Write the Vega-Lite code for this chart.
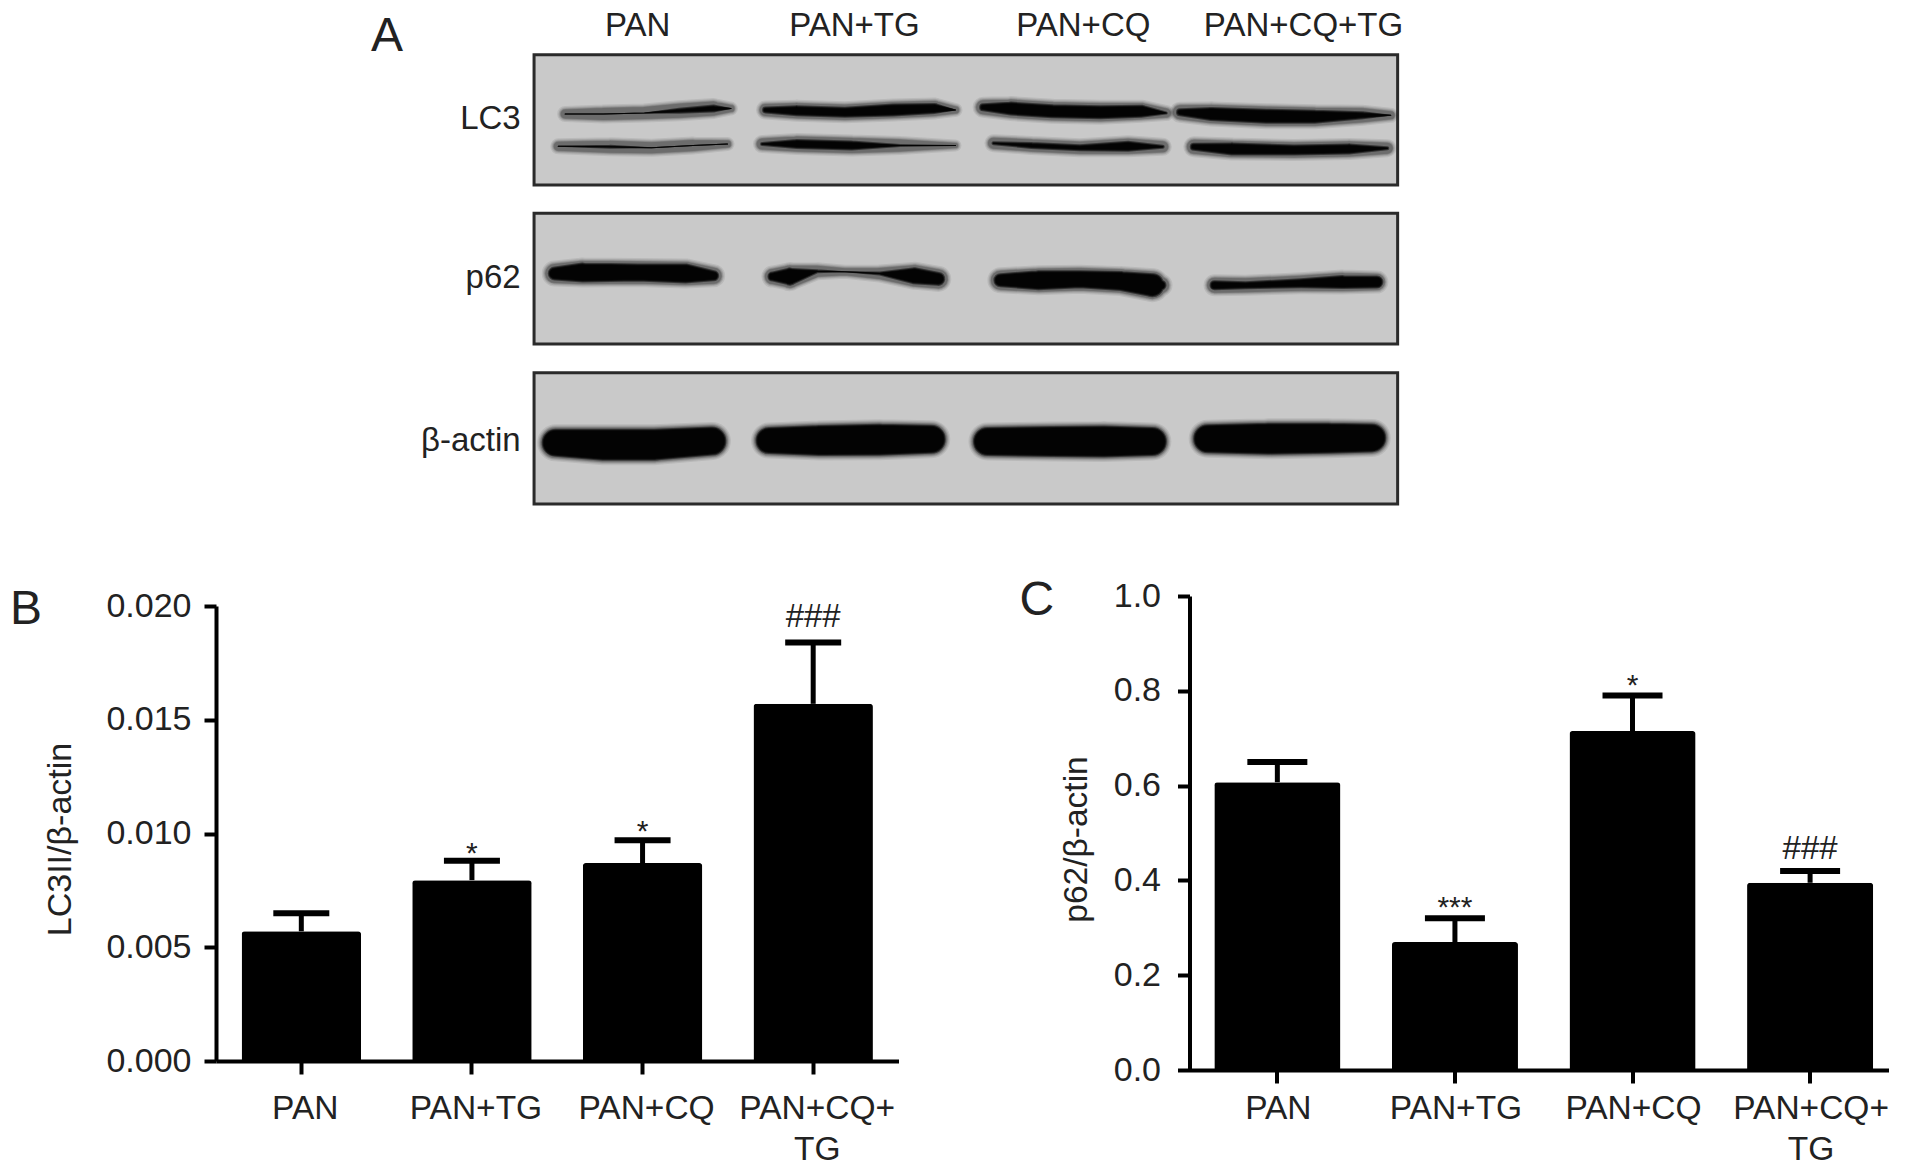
{
"$schema":"https://vega.github.io/schema/vega-lite/v6.json",
"background":"white",
"padding":{"left":10,"top":1,"right":0,"bottom":0},
"config":{"view":{"stroke":null},"font":"Liberation Sans","title":{"font":"Liberation Sans"}},
"datasets":{
"gels":[{"blot":"LC3","x0":0,"x1":100,"y0":0,"y1":29},{"blot":"p62","x0":0,"x1":100,"y0":35.3,"y1":64.4},{"blot":"β-actin","x0":0,"x1":100,"y0":70.8,"y1":100}],
"labels":[
{"t":"PAN","x":12,"y":-6.3},{"t":"PAN+TG","x":37.1,"y":-6.3},{"t":"PAN+CQ","x":63.6,"y":-6.3},{"t":"PAN+CQ+TG","x":89.1,"y":-6.3}],
"rowlabels":[{"t":"LC3","x":-1.55,"y":14.4},{"t":"p62","x":-1.55,"y":49.7},{"t":"β-actin","x":-1.55,"y":85.9}],
"bands":[
{"b":"u1","x":3.6,"y":13.2,"w":9,"c":0},{"b":"u1","x":8,"y":13.2,"w":12,"c":0},{"b":"u1","x":12.8,"y":13,"w":12,"c":1},{"b":"u1","x":16.8,"y":12.5,"w":14,"c":6},{"b":"u1","x":20.8,"y":12,"w":14,"c":8},{"b":"u1","x":22.8,"y":12,"w":7,"c":0},
{"b":"u2","x":26.8,"y":12.3,"w":12,"c":7},{"b":"u2","x":30.4,"y":12.5,"w":15,"c":11},{"b":"u2","x":36,"y":12.8,"w":15,"c":11},{"b":"u2","x":41.6,"y":12.3,"w":16,"c":13},{"b":"u2","x":46.4,"y":12,"w":15,"c":11},{"b":"u2","x":48.8,"y":12.3,"w":7,"c":0},
{"b":"u3","x":52,"y":11.7,"w":14,"c":8},{"b":"u3","x":55.2,"y":12,"w":18,"c":14},{"b":"u3","x":60,"y":12.6,"w":18,"c":14},{"b":"u3","x":65.6,"y":12.8,"w":18,"c":14},{"b":"u3","x":70.4,"y":12.6,"w":16,"c":13},{"b":"u3","x":73.2,"y":13,"w":9,"c":3},
{"b":"u4","x":74.8,"y":12.8,"w":14,"c":8},{"b":"u4","x":78.4,"y":13.2,"w":18,"c":14},{"b":"u4","x":84.8,"y":13.7,"w":19,"c":15},{"b":"u4","x":90.4,"y":13.8,"w":18,"c":14},{"b":"u4","x":96,"y":13.5,"w":14,"c":8},{"b":"u4","x":99.2,"y":13.5,"w":8,"c":0},
{"b":"l1","x":2.8,"y":20.4,"w":9,"c":0},{"b":"l1","x":8.8,"y":20.5,"w":12,"c":4},{"b":"l1","x":13.6,"y":20.7,"w":11,"c":0},{"b":"l1","x":18.4,"y":20.2,"w":11,"c":1},{"b":"l1","x":22.4,"y":19.9,"w":7,"c":0},
{"b":"l2","x":26.4,"y":19.9,"w":11,"c":4},{"b":"l2","x":30.4,"y":19.9,"w":15,"c":10},{"b":"l2","x":36.8,"y":20.2,"w":15,"c":10},{"b":"l2","x":42.4,"y":20.2,"w":12,"c":3},{"b":"l2","x":48.8,"y":20.2,"w":5,"c":0},
{"b":"l3","x":53.2,"y":19.7,"w":11,"c":4},{"b":"l3","x":57.6,"y":20.2,"w":12,"c":7},{"b":"l3","x":63.2,"y":20.7,"w":12,"c":7},{"b":"l3","x":68.8,"y":20.4,"w":15,"c":11},{"b":"l3","x":72.8,"y":20.5,"w":11,"c":4},
{"b":"l4","x":76.4,"y":20.5,"w":14,"c":8},{"b":"l4","x":80.8,"y":21,"w":16,"c":13},{"b":"l4","x":88,"y":21.2,"w":15,"c":11},{"b":"l4","x":94.4,"y":21,"w":15,"c":11},{"b":"l4","x":98.8,"y":20.8,"w":11,"c":4},
{"b":"p1","x":2.4,"y":48.7,"w":19,"c":14},{"b":"p1","x":5.6,"y":48.5,"w":23,"c":20},{"b":"p1","x":12,"y":48.5,"w":22,"c":18},{"b":"p1","x":17.6,"y":48.7,"w":23,"c":20},{"b":"p1","x":20.8,"y":49.2,"w":16,"c":11},
{"b":"p2","x":27.6,"y":49.4,"w":15,"c":10},{"b":"p2","x":29.6,"y":49.4,"w":22,"c":18},{"b":"p2","x":32.8,"y":48.2,"w":11,"c":4},{"b":"p2","x":36,"y":48.3,"w":7,"c":0},{"b":"p2","x":40,"y":48.7,"w":11,"c":4},{"b":"p2","x":44,"y":49.2,"w":21,"c":17},{"b":"p2","x":46.8,"y":49.9,"w":19,"c":14},
{"b":"p3","x":54,"y":50.2,"w":19,"c":14},{"b":"p3","x":58.4,"y":50.2,"w":23,"c":20},{"b":"p3","x":63.2,"y":50,"w":22,"c":18},{"b":"p3","x":68,"y":50.4,"w":23,"c":20},{"b":"p3","x":71.6,"y":51.3,"w":27,"c":24},{"b":"p3","x":72.6,"y":51.3,"w":16,"c":11},
{"b":"p4","x":78.8,"y":51.3,"w":15,"c":10},{"b":"p4","x":82.4,"y":51.3,"w":14,"c":8},{"b":"p4","x":88.8,"y":50.9,"w":15,"c":10},{"b":"p4","x":93.6,"y":50.6,"w":18,"c":14},{"b":"p4","x":97.6,"y":50.6,"w":16,"c":13},
{"b":"a1","x":2.5,"y":86.4,"w":30,"c":28},{"b":"a1","x":8,"y":86.8,"w":34,"c":32},{"b":"a1","x":14,"y":86.8,"w":34,"c":32},{"b":"a1","x":20.6,"y":86,"w":31,"c":29},
{"b":"a2","x":27.2,"y":85.9,"w":29,"c":27},{"b":"a2","x":33,"y":85.9,"w":33,"c":31},{"b":"a2","x":40,"y":85.7,"w":34,"c":32},{"b":"a2","x":46,"y":85.6,"w":31,"c":29},
{"b":"a3","x":52.5,"y":86.1,"w":31,"c":29},{"b":"a3","x":60,"y":86.1,"w":33,"c":31},{"b":"a3","x":66,"y":86.1,"w":34,"c":32},{"b":"a3","x":71.6,"y":86.1,"w":31,"c":29},
{"b":"a4","x":78,"y":85.5,"w":31,"c":29},{"b":"a4","x":85,"y":85.5,"w":34,"c":32},{"b":"a4","x":92,"y":85.4,"w":33,"c":31},{"b":"a4","x":97,"y":85.3,"w":31,"c":29}
],
"lc3":[
{"g":"PAN","v":0.0057,"u":0.0065},{"g":"PAN+TG","v":0.00795,"u":0.0088,"s":"*","sy":0.0093},{"g":"PAN+CQ","v":0.0087,"u":0.0097,"s":"*","sy":0.0103},{"g":"PAN+CQ+TG","v":0.0157,"u":0.0184,"s":"###","sy":0.0195}],
"p62":[
{"g":"PAN","v":0.607,"u":0.65},{"g":"PAN+TG","v":0.27,"u":0.32,"s":"***","sy":0.353},{"g":"PAN+CQ","v":0.715,"u":0.79,"s":"*","sy":0.82},{"g":"PAN+CQ+TG","v":0.395,"u":0.42,"s":"###","sy":0.466}]
},
"bounds":"flush",
"spacing":35,
"vconcat":[
{"width":1672.5,"height":560,
 "encoding":{
  "x":{"field":"x","type":"quantitative","scale":{"domain":[-36.83,156.84],"nice":false,"zero":false},"axis":null},
  "y":{"field":"y","type":"quantitative","scale":{"domain":[-11.95,112.7],"nice":false,"zero":false,"reverse":true},"axis":null}
 },
 "resolve":{"scale":{"size":"independent"}},
 "title":{"text":"A","anchor":"start","frame":"group","fontSize":48,"fontWeight":"normal","color":"#222","dx":155,"dy":60,"offset":0},
 "layer":[
  {"data":{"name":"gels"},"mark":{"type":"rect","fill":"#c9c9c9","stroke":"#2a2a2a","strokeWidth":3},
   "encoding":{"x":{"field":"x0","type":"quantitative"},"x2":{"field":"x1"},"y":{"field":"y0","type":"quantitative"},"y2":{"field":"y1"}}},
  {"data":{"name":"bands"},"mark":{"type":"trail","color":"#000","opacity":0.08},
   "encoding":{"detail":{"field":"b"},"size":{"field":"w","type":"quantitative","legend":null,"scale":{"domain":[0,40],"range":[7,47]}}}},
  {"data":{"name":"bands"},"mark":{"type":"trail","color":"#000","opacity":0.1},
   "encoding":{"detail":{"field":"b"},"size":{"field":"w","type":"quantitative","legend":null,"scale":{"domain":[0,40],"range":[4.5,44.5]}}}},
  {"data":{"name":"bands"},"mark":{"type":"trail","color":"#000","opacity":0.12},
   "encoding":{"detail":{"field":"b"},"size":{"field":"w","type":"quantitative","legend":null,"scale":{"domain":[0,40],"range":[2.5,42.5]}}}},
  {"data":{"name":"bands"},"mark":{"type":"trail","color":"#000","opacity":0.12},
   "encoding":{"detail":{"field":"b"},"size":{"field":"w","type":"quantitative","legend":null,"scale":{"domain":[0,40],"range":[1,41]}}}},
  {"data":{"name":"bands"},"mark":{"type":"trail","color":"#000","opacity":0.15},
   "encoding":{"detail":{"field":"b"},"size":{"field":"w","type":"quantitative","legend":null,"scale":{"domain":[0,40],"range":[0,40]}}}},
  {"data":{"name":"bands"},"mark":{"type":"trail","color":"#000","opacity":0.5},
   "encoding":{"detail":{"field":"b"},"size":{"field":"c","type":"quantitative","legend":null,"scale":{"domain":[0,40],"range":[0,40]}}}},
  {"data":{"name":"bands"},"mark":{"type":"trail","color":"#000","opacity":0.7},
   "encoding":{"detail":{"field":"b"},"size":{"field":"c","type":"quantitative","legend":null,"scale":{"domain":[2,42],"range":[0,40],"clamp":true}}}},
  {"data":{"name":"bands"},"mark":{"type":"trail","color":"#000","opacity":0.8},
   "encoding":{"detail":{"field":"b"},"size":{"field":"c","type":"quantitative","legend":null,"scale":{"domain":[4,44],"range":[0,40],"clamp":true}}}},
  {"data":{"name":"labels"},"mark":{"type":"text","fontSize":33,"color":"#222","align":"center","baseline":"middle"},"encoding":{"text":{"field":"t"}}},
  {"data":{"name":"rowlabels"},"mark":{"type":"text","fontSize":33,"color":"#222","align":"right","baseline":"middle"},"encoding":{"text":{"field":"t"}}}
 ]},
{"bounds":"flush","spacing":290.5,
 "hconcat":[
 {"width":682.5,"height":465,
  "title":{"text":"B","anchor":"start","frame":"group","fontSize":48,"fontWeight":"normal","color":"#222","dx":-206,"dy":45,"offset":0},
  "data":{"name":"lc3"},
  "encoding":{
   "x":{"field":"g","type":"nominal","sort":null,"title":null,"scale":{"paddingInner":0.3,"paddingOuter":0.15},
     "axis":{"labelAngle":0,"labelFontSize":33.5,"labelColor":"#222","labelPadding":18,"labelLineHeight":41,"labelOffset":4,"tickSize":13,"tickWidth":4,"tickColor":"#000","domainWidth":4,"domainColor":"#000","labelLimit":0,"labelExpr":"datum.label=='PAN+CQ+TG'?['PAN+CQ+','TG']:datum.label"}},
   "y":{"field":"v","type":"quantitative","title":"LC3II/β-actin","scale":{"domain":[0,0.02],"range":[465,10],"nice":false},
     "axis":{"values":[0,0.005,0.01,0.015,0.02],"format":".3f","grid":false,"labelFontSize":34,"labelColor":"#222","labelPadding":13,"tickSize":12,"tickWidth":4,"tickColor":"#000","domainWidth":4,"domainColor":"#000","titleFontSize":34,"titleFontWeight":"normal","titleColor":"#222","titlePadding":28,"titleY":243}}
  },
  "layer":[
   {"mark":{"type":"rule","color":"#000","strokeWidth":5},"encoding":{"y":{"field":"v","type":"quantitative"},"y2":{"field":"u"}}},
   {"mark":{"type":"tick","color":"#000","opacity":1,"size":56,"thickness":6},"encoding":{"y":{"field":"u","type":"quantitative"}}},
   {"mark":{"type":"bar","color":"#000","cornerRadiusTopLeft":3,"cornerRadiusTopRight":3}},
   {"mark":{"type":"text","fontSize":30,"color":"#222","baseline":"middle","dy":5},"transform":[{"filter":"datum.s=='*'"}],"encoding":{"y":{"field":"sy","type":"quantitative"},"text":{"field":"s"}}},
   {"mark":{"type":"text","fontSize":33,"color":"#222","baseline":"middle"},"transform":[{"filter":"datum.s=='###'"}],"encoding":{"y":{"field":"sy","type":"quantitative"},"text":{"field":"s"}}}
  ]},
 {"width":699.5,"height":474,
  "title":{"text":"C","anchor":"start","frame":"group","fontSize":48,"fontWeight":"normal","color":"#222","dx":-170,"dy":46,"offset":0},
  "data":{"name":"p62"},
  "encoding":{
   "x":{"field":"g","type":"nominal","sort":null,"title":null,"scale":{"paddingInner":0.29,"paddingOuter":0.1145,"align":0.61},
     "axis":{"labelAngle":0,"labelFontSize":33.5,"labelColor":"#222","labelPadding":9,"labelLineHeight":41,"labelOffset":1,"tickSize":13,"tickWidth":4,"tickColor":"#000","domainWidth":4,"domainColor":"#000","labelLimit":0,"labelExpr":"datum.label=='PAN+CQ+TG'?['PAN+CQ+','TG']:datum.label"}},
   "y":{"field":"v","type":"quantitative","title":"p62/β-actin","scale":{"domain":[0,1],"nice":false},
     "axis":{"values":[0,0.2,0.4,0.6,0.8,1],"format":".1f","grid":false,"labelFontSize":34,"labelColor":"#222","labelPadding":17,"tickSize":12,"tickWidth":4,"tickColor":"#000","domainWidth":4,"domainColor":"#000","titleFontSize":33.5,"titleFontWeight":"normal","titleColor":"#222","titlePadding":20,"titleY":243}}
  },
  "layer":[
   {"mark":{"type":"rule","color":"#000","strokeWidth":5},"encoding":{"y":{"field":"v","type":"quantitative"},"y2":{"field":"u"}}},
   {"mark":{"type":"tick","color":"#000","opacity":1,"size":60,"thickness":6},"encoding":{"y":{"field":"u","type":"quantitative"}}},
   {"mark":{"type":"bar","color":"#000","cornerRadiusTopLeft":3,"cornerRadiusTopRight":3}},
   {"mark":{"type":"text","fontSize":30,"color":"#222","baseline":"middle","dy":5},"transform":[{"filter":"datum.s=='*'||datum.s=='***'"}],"encoding":{"y":{"field":"sy","type":"quantitative"},"text":{"field":"s"}}},
   {"mark":{"type":"text","fontSize":33,"color":"#222","baseline":"middle"},"transform":[{"filter":"datum.s=='###'"}],"encoding":{"y":{"field":"sy","type":"quantitative"},"text":{"field":"s"}}}
  ]}
 ]}
]}
